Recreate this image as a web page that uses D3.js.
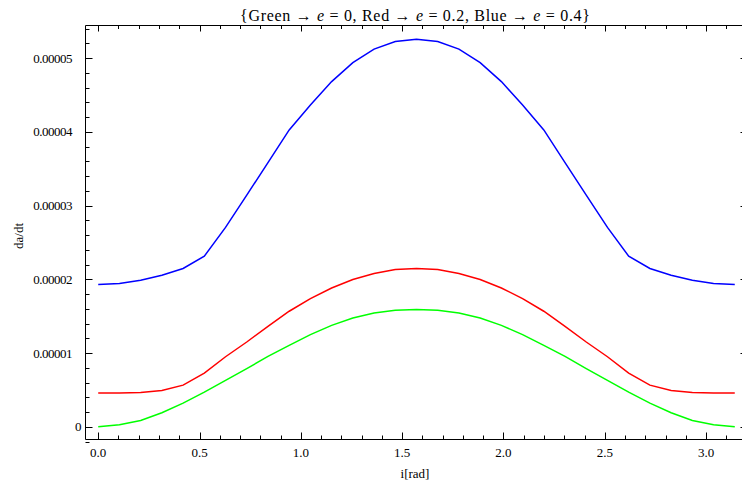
<!DOCTYPE html>
<html>
<head>
<meta charset="utf-8">
<script src="https://cdn.jsdelivr.net/npm/d3@7"></script>
<style>
  body { margin: 0; background: #fff; }
  svg text { font-family: "Liberation Serif", "Times New Roman", serif; fill: #000; }
  .frame line, .frame path { stroke: #000; }
  .curve { fill: none; stroke-width: 1.5; }
</style>
</head>
<body>
<svg id="chart" width="742" height="486"></svg>
<script>
// sample points: i = k * pi/30, k = 0..30
var inclination = d3.range(31).map(function(k) { return k * Math.PI / 30; });

// da/dt in units of 1e-5
var greenE0 = [0, 0.027, 0.086, 0.19, 0.32, 0.47, 0.629, 0.788, 0.955, 1.105, 1.25, 1.376, 1.476, 1.544, 1.58, 1.59,
  1.58, 1.544, 1.476, 1.376, 1.25, 1.105, 0.955, 0.788, 0.629, 0.47, 0.32, 0.19, 0.086, 0.027, 0];
var redE02 = [0.457, 0.459, 0.466, 0.493, 0.565, 0.728, 0.95, 1.15, 1.363, 1.567, 1.739, 1.883, 1.997, 2.079, 2.133, 2.147,
  2.133, 2.079, 1.997, 1.883, 1.739, 1.567, 1.363, 1.15, 0.95, 0.728, 0.565, 0.493, 0.466, 0.459, 0.457];
var blueE04 = [1.929, 1.943, 1.988, 2.056, 2.147, 2.314, 2.704, 3.143, 3.582, 4.026, 4.365, 4.682, 4.94, 5.122, 5.226, 5.258,
  5.226, 5.122, 4.94, 4.682, 4.365, 4.026, 3.582, 3.143, 2.704, 2.314, 2.147, 2.056, 1.988, 1.943, 1.929];

var xTicks = [0, 0.5, 1.0, 1.5, 2.0, 2.5, 3.0];
var yTicks = [0, 1e-5, 2e-5, 3e-5, 4e-5, 5e-5];
var yTickLabels = ["0", "0.00001", "0.00002", "0.00003", "0.00004", "0.00005"];

var series = [
  { values: greenE0, color: "#00ff00" },
  { values: redE02, color: "#ff0000" },
  { values: blueE04, color: "#0000ff" }
];

var svg = d3.select("svg#chart");

var plotLeft = 85.5, plotRight = 747.5, plotTop = 25.5, plotBottom = 439.5;

var xScale = d3.scaleLinear()
  .domain([-0.0628, Math.PI + 0.0628])
  .range([plotLeft, plotRight]);

var yScale = d3.scaleLinear()
  .domain([-0.1726e-5, 5.443e-5])
  .range([plotBottom, plotTop]);

var xMinor = d3.range(0, 32).map(function(k) { return k / 10; })
  .filter(function(v) { return Math.round(v * 10) % 5 !== 0; });
var yMinor = d3.range(-1, 28).map(function(k) { return k * 0.2e-5; })
  .filter(function(v) { return Math.round(v * 1e6) % 10 !== 0; });

var frame = svg.append("g").attr("class", "frame");

// frame lines
frame.append("path")
  .attr("d", "M" + plotLeft + "," + plotTop + "H" + plotRight + "V" + plotBottom + "H" + plotLeft + "Z")
  .attr("fill", "none")
  .attr("stroke-width", 1);

var drawTicks = function(vals, len, horizontal, pos, dir) {
  frame.selectAll(null)
    .data(vals)
    .enter().append("line")
    .attr("x1", function(d) { return horizontal ? Math.round(xScale(d)) + 0.5 : pos; })
    .attr("x2", function(d) { return horizontal ? Math.round(xScale(d)) + 0.5 : pos + dir * len; })
    .attr("y1", function(d) { return horizontal ? pos : Math.round(yScale(d)) + 0.5; })
    .attr("y2", function(d) { return horizontal ? pos + dir * len : Math.round(yScale(d)) + 0.5; })
    .attr("stroke-width", 1);
};

drawTicks(xTicks, 7, true, plotBottom, -1);
drawTicks(xMinor, 4, true, plotBottom, -1);
drawTicks(xTicks, 6, true, plotTop, 1);
drawTicks(xMinor, 3.5, true, plotTop, 1);
drawTicks(yTicks, 7, false, plotLeft, 1);
drawTicks(yMinor, 4, false, plotLeft, 1);
drawTicks(yTicks, 7, false, plotRight, -1);
drawTicks(yMinor, 4, false, plotRight, -1);

// tick labels
svg.append("g").selectAll("text")
  .data(xTicks)
  .enter().append("text")
  .attr("x", function(d) { return xScale(d); })
  .attr("y", 457)
  .attr("text-anchor", "middle")
  .attr("font-size", 13)
  .text(function(d) { return d3.format(".1f")(d); });

svg.append("g").selectAll("text")
  .data(yTicks)
  .enter().append("text")
  .attr("x", function(d, i) { return i === 0 ? 81 : 72; })
  .attr("y", function(d) { return yScale(d) + 4.5; })
  .attr("text-anchor", "end")
  .attr("font-size", 13)
  .attr("letter-spacing", -0.5)
  .text(function(d, i) { return yTickLabels[i]; });

// axis labels
svg.append("text")
  .attr("x", 415)
  .attr("y", 478)
  .attr("text-anchor", "middle")
  .attr("font-size", 13)
  .text("i[rad]");

svg.append("text")
  .attr("transform", "translate(23,236) rotate(-90)")
  .attr("text-anchor", "middle")
  .attr("font-size", 13)
  .text("da/dt");

// title
var title = svg.append("text")
  .attr("x", 415)
  .attr("y", 21)
  .attr("text-anchor", "middle")
  .attr("font-size", 16)
  .attr("textLength", 350)
  .attr("lengthAdjust", "spacing");
var parts = [
  ["{Green \u2192 ", false], ["e", true], [" = 0, Red \u2192 ", false], ["e", true],
  [" = 0.2, Blue \u2192 ", false], ["e", true], [" = 0.4}", false]
];
parts.forEach(function(p) {
  title.append("tspan")
    .attr("font-style", p[1] ? "italic" : "normal")
    .text(p[0]);
});

// curves
var line = d3.line()
  .x(function(d, i) { return xScale(inclination[i]); })
  .y(function(d) { return yScale(d * 1e-5); });

svg.append("g").selectAll("path")
  .data(series)
  .enter().append("path")
  .attr("class", "curve")
  .attr("stroke", function(d) { return d.color; })
  .attr("d", function(d) { return line(d.values); });
</script>
</body>
</html>
